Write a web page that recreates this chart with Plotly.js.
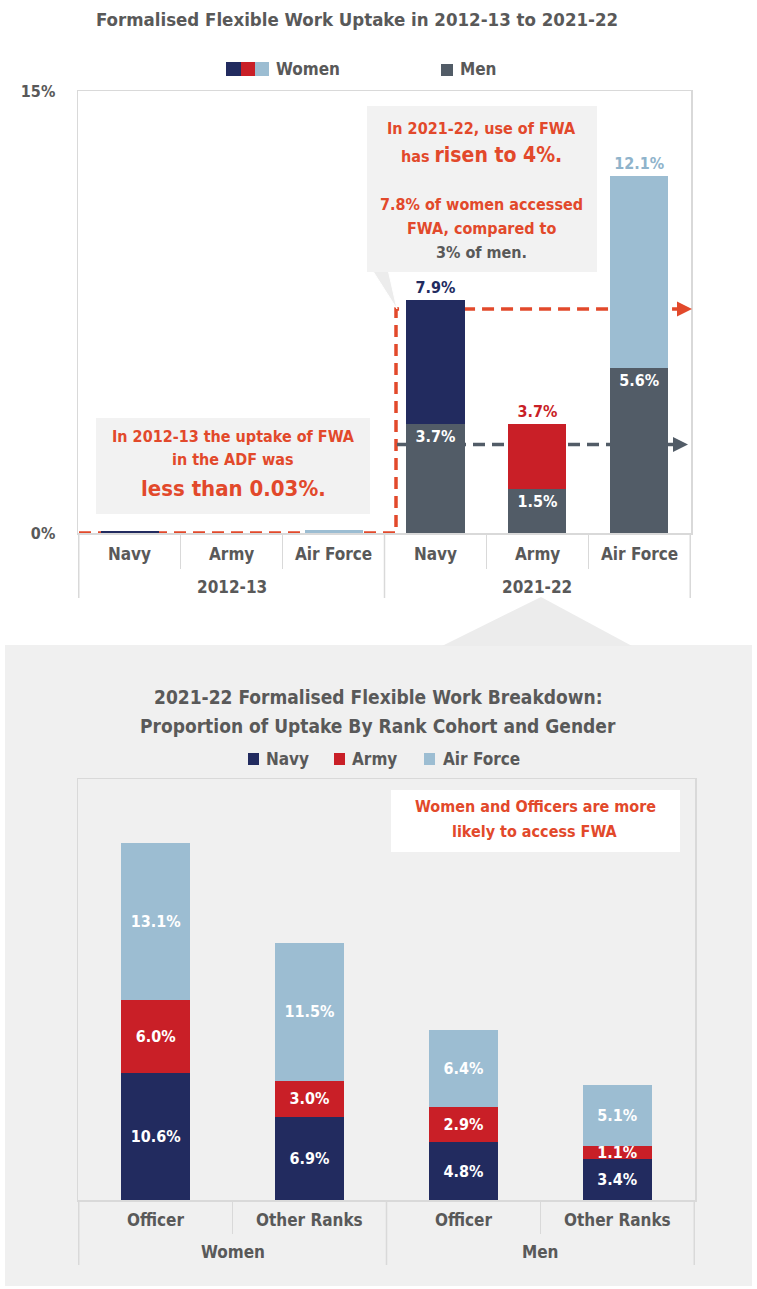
<!DOCTYPE html>
<html>
<head>
<meta charset="utf-8">
<script src="https://cdn.plot.ly/plotly-3.0.1.min.js"></script>
<style>
html,body{margin:0;padding:0;background:#fff;}
#chart{width:757px;height:1289px;}
</style>
</head>
<body>
<div id="chart"></div>
<script>
// ---------- DATA ----------
const topGroups   = ['2012-13','2012-13','2012-13','2021-22','2021-22','2021-22'];
const topServices = ['Navy','Army','Air Force','Navy','Army','Air Force'];
const womenUptake = [0.06, 0.01, 0.09, 7.9, 3.7, 12.1];
const menUptake   = [0, 0, 0, 3.7, 1.5, 5.6];
const womenLabels = ['', '', '', '7.9%', '3.7%', '12.1%'];
const menLabels   = ['', '', '', '3.7%', '1.5%', '5.6%'];
const womenAvgLine = 7.6;   // orange dashed reference (as drawn)
const menAvgLine   = 3.0;   // grey dashed reference

const rankGender  = ['Women','Women','Men','Men'];
const rankCohort  = ['Officer','Other Ranks','Officer','Other Ranks'];
const navyShare   = [10.6, 6.9, 4.8, 3.4];
const armyShare   = [6.0, 3.0, 2.9, 1.1];
const airShare    = [13.1, 11.5, 6.4, 5.1];

// ---------- STYLE ----------
const W = 757, H = 1289;
const X = px => px / W;
const Y = py => 1 - py / H;
const FONT = '"DejaVu Sans Condensed", "Liberation Sans Narrow", "DejaVu Sans", sans-serif';
const GREY = '#595959';
const NAVY = '#222b5f', RED = '#c91f27', LBLUE = '#9cbdd2', MEN = '#525c67';
const ORANGE = '#e2492b';
const LINE = '#d9d9d9';
const womenColors = [NAVY, RED, LBLUE, NAVY, RED, LBLUE];

const pct = arr => arr.map(v => v.toFixed(1) + '%');

const traces = [
  {
    type: 'bar', xaxis: 'x', yaxis: 'y',
    x: [topGroups, topServices], y: menUptake,
    width: 0.57, marker: {color: MEN},
    text: menLabels, textposition: 'inside', insidetextanchor: 'end',
    textfont: {color: '#ffffff', size: 16, family: FONT, weight: 'bold'},
    constraintext: 'none', cliponaxis: false, showlegend: false, hoverinfo: 'skip'
  },
  {
    type: 'bar', xaxis: 'x', yaxis: 'y',
    x: [topGroups, topServices], y: womenUptake.map((v, i) => v - menUptake[i]),
    width: 0.57, marker: {color: womenColors},
    text: womenLabels, textposition: 'outside',
    outsidetextfont: {color: womenColors.map((c, i) => i === 5 ? '#8fb3cb' : c), size: 16, family: FONT, weight: 'bold'},
    constraintext: 'none', cliponaxis: false, showlegend: false, hoverinfo: 'skip'
  },
  {
    type: 'bar', name: 'Navy', xaxis: 'x2', yaxis: 'y2',
    x: [rankGender, rankCohort], y: navyShare, width: 0.45,
    marker: {color: NAVY}, text: pct(navyShare), textposition: 'inside', insidetextanchor: 'middle',
    textfont: {color: '#ffffff', size: 16, family: FONT, weight: 'bold'}, constraintext: 'none',
    showlegend: false, hoverinfo: 'skip'
  },
  {
    type: 'bar', name: 'Army', xaxis: 'x2', yaxis: 'y2',
    x: [rankGender, rankCohort], y: armyShare, width: 0.45,
    marker: {color: RED}, text: pct(armyShare), textposition: 'inside', insidetextanchor: 'middle',
    textfont: {color: '#ffffff', size: 16, family: FONT, weight: 'bold'}, constraintext: 'none',
    showlegend: false, hoverinfo: 'skip'
  },
  {
    type: 'bar', name: 'Air Force', xaxis: 'x2', yaxis: 'y2',
    x: [rankGender, rankCohort], y: airShare, width: 0.45,
    marker: {color: LBLUE}, text: pct(airShare), textposition: 'inside', insidetextanchor: 'middle',
    textfont: {color: '#ffffff', size: 16, family: FONT, weight: 'bold'}, constraintext: 'none',
    showlegend: false, hoverinfo: 'skip'
  }
];

const axisFont = {family: FONT, size: 17, color: GREY, weight: 'bold'};

const ann = (x, y, text, opts = {}) => Object.assign({
  xref: 'paper', yref: 'paper', x: X(x), y: Y(y), text: text, showarrow: false,
  xanchor: 'center', yanchor: 'middle',
  font: {family: FONT, size: 16, color: ORANGE, weight: 'bold'}
}, opts);

// two-level category labels (inner labels + group labels) and group dividers
function groupInfo(groups) {
  const out = [];
  groups.forEach((g, i) => {
    const last = out[out.length - 1];
    if (last && last.name === g) last.end = i; else out.push({name: g, start: i, end: i});
  });
  return out;
}
function categoryDecor(xref, inner, groups, yAxisPx, innerPx, outerPx, dividerEndPx) {
  const anns = [], shps = [];
  inner.forEach((lab, i) => anns.push({
    xref: xref, yref: 'paper', x: i, y: Y(innerPx), text: lab, showarrow: false,
    xanchor: 'center', yanchor: 'middle', font: axisFont
  }));
  const gi = groupInfo(groups);
  gi.forEach(g => {
    anns.push({
      xref: xref, yref: 'paper', x: (g.start + g.end) / 2, y: Y(outerPx), text: g.name, showarrow: false,
      xanchor: 'center', yanchor: 'middle', font: axisFont
    });
  });
  const bounds = [gi[0].start - 0.5].concat(gi.map(g => g.end + 0.5));
  bounds.forEach(b => shps.push({
    type: 'line', xref: xref, yref: 'paper', x0: b, x1: b, y0: Y(yAxisPx), y1: Y(dividerEndPx),
    line: {color: LINE, width: 1.5}
  }));
  return {anns, shps};
}
const topDecor = categoryDecor('x', topServices, topGroups, 533, 554, 587, 598);
const botDecor = categoryDecor('x2', rankCohort, rankGender, 1200, 1220, 1252, 1265);

const shapes = [
  // grey background panel for the breakdown chart
  {type: 'rect', xref: 'paper', yref: 'paper', x0: X(5), x1: X(752), y0: Y(1286), y1: Y(645),
   fillcolor: '#f0f0f0', line: {width: 0}, layer: 'below'},
  // pointer triangle
  {type: 'path', xref: 'paper', yref: 'paper',
   path: `M ${X(442)},${Y(646)} L ${X(541)},${Y(597)} L ${X(632)},${Y(646)} Z`,
   fillcolor: '#ececec', line: {width: 0}, layer: 'below'},
  // top legend swatches
  {type: 'rect', xref: 'paper', yref: 'paper', x0: X(226), x1: X(241), y0: Y(76), y1: Y(62), fillcolor: NAVY, line: {width: 0}},
  {type: 'rect', xref: 'paper', yref: 'paper', x0: X(241), x1: X(255), y0: Y(76), y1: Y(62), fillcolor: RED, line: {width: 0}},
  {type: 'rect', xref: 'paper', yref: 'paper', x0: X(255), x1: X(269), y0: Y(76), y1: Y(62), fillcolor: LBLUE, line: {width: 0}},
  {type: 'rect', xref: 'paper', yref: 'paper', x0: X(441), x1: X(453), y0: Y(76), y1: Y(64), fillcolor: MEN, line: {width: 0}},
  // bottom legend swatches
  {type: 'rect', xref: 'paper', yref: 'paper', x0: X(248), x1: X(259), y0: Y(765), y1: Y(753), fillcolor: NAVY, line: {width: 0}},
  {type: 'rect', xref: 'paper', yref: 'paper', x0: X(334), x1: X(345), y0: Y(765), y1: Y(753), fillcolor: RED, line: {width: 0}},
  {type: 'rect', xref: 'paper', yref: 'paper', x0: X(424), x1: X(435), y0: Y(765), y1: Y(753), fillcolor: LBLUE, line: {width: 0}},
  // orange dashed reference line (women)
  {type: 'path', xref: 'paper', yref: 'y', layer: 'below',
   path: `M ${X(79)},0 L ${X(396)},0 L ${X(396)},${womenAvgLine} L ${X(682)},${womenAvgLine}`,
   line: {color: ORANGE, width: 3.5, dash: '12px,7px'}},
  // grey dashed reference line (men)
  {type: 'path', xref: 'paper', yref: 'y', layer: 'below',
   path: `M ${X(397)},${menAvgLine} L ${X(678)},${menAvgLine}`,
   line: {color: MEN, width: 3.5, dash: '12px,7px'}},
  // callout boxes
  {type: 'path', xref: 'paper', yref: 'paper', layer: 'above',
   path: `M ${X(369)},${Y(265)} L ${X(387)},${Y(265)} L ${X(397)},${Y(309)} Z`,
   fillcolor: '#ececec', line: {color: '#ffffff', width: 1}},
  {type: 'rect', xref: 'paper', yref: 'paper', x0: X(367), x1: X(597), y0: Y(272), y1: Y(106),
   fillcolor: '#f2f2f2', line: {width: 0}, layer: 'above'},
  {type: 'rect', xref: 'paper', yref: 'paper', x0: X(96), x1: X(370), y0: Y(514), y1: Y(418),
   fillcolor: '#f2f2f2', line: {width: 0}, layer: 'above'},
  {type: 'rect', xref: 'paper', yref: 'paper', x0: X(391), x1: X(680), y0: Y(852), y1: Y(790),
   fillcolor: '#ffffff', line: {width: 0}, layer: 'above'}
].concat(topDecor.shps, botDecor.shps);

const annotations = [
  // top legend labels
  ann(274, 69, 'Women', {xanchor: 'left', font: {family: FONT, size: 17, color: GREY, weight: 'bold'}}),
  ann(458, 69, 'Men', {xanchor: 'left', font: {family: FONT, size: 17, color: GREY, weight: 'bold'}}),
  // bottom title + legend
  ann(378, 697, '2021-22 Formalised Flexible Work Breakdown:', {font: {family: FONT, size: 19, color: GREY, weight: 'bold'}}),
  ann(378, 726, 'Proportion of Uptake By Rank Cohort and Gender', {font: {family: FONT, size: 19, color: GREY, weight: 'bold'}}),
  ann(264, 759, 'Navy', {xanchor: 'left', font: {family: FONT, size: 17, color: GREY, weight: 'bold'}}),
  ann(350, 759, 'Army', {xanchor: 'left', font: {family: FONT, size: 17, color: GREY, weight: 'bold'}}),
  ann(441, 759, 'Air Force', {xanchor: 'left', font: {family: FONT, size: 17, color: GREY, weight: 'bold'}}),
  // top callout
  ann(482, 128, 'In 2021-22, use of FWA'),
  ann(482, 155, 'has <span style="font-size:21px">risen to 4%.</span>'),
  ann(482, 205, '7.8% of women accessed'),
  ann(482, 228, 'FWA, compared to'),
  ann(482, 252, '3% of men.', {font: {family: FONT, size: 16, color: GREY, weight: 'bold'}}),
  // 2012-13 callout
  ann(233, 436, 'In 2012-13 the uptake of FWA'),
  ann(233, 459, 'in the ADF was'),
  ann(233, 488, 'less than 0.03%.', {font: {family: FONT, size: 22, color: ORANGE, weight: 'bold'}}),
  // breakdown callout
  ann(535, 806, 'Women and Officers are more'),
  ann(535, 831, 'likely to access FWA'),
  // arrow heads
  {xref: 'paper', yref: 'y', x: X(692), y: womenAvgLine, ax: -14, ay: 0, text: '', showarrow: true,
   arrowhead: 2, arrowsize: 1, arrowwidth: 3, arrowcolor: ORANGE},
  {xref: 'paper', yref: 'y', x: X(688), y: menAvgLine, ax: -14, ay: 0, text: '', showarrow: true,
   arrowhead: 2, arrowsize: 1, arrowwidth: 3, arrowcolor: MEN}
].concat(topDecor.anns, botDecor.anns);

const layout = {
  width: W, height: H,
  margin: {l: 0, r: 0, t: 0, b: 0},
  paper_bgcolor: '#ffffff', plot_bgcolor: 'rgba(0,0,0,0)',
  barmode: 'stack',
  showlegend: false,
  font: {family: FONT, color: GREY},
  title: {text: 'Formalised Flexible Work Uptake in 2012-13 to 2021-22',
    x: X(357), xanchor: 'center', xref: 'paper', y: Y(20), yanchor: 'middle', yref: 'paper',
    font: {family: FONT, size: 18.5, color: GREY, weight: 'bold'}},
  xaxis: {
    domain: [X(78), X(691)], anchor: 'y', type: 'multicategory',
    showline: true, linecolor: LINE, linewidth: 1.5, mirror: true,
    ticks: 'outside', ticklen: 34, tickcolor: LINE, tickwidth: 1,
    showticklabels: false, showdividers: false,
    showgrid: false, fixedrange: true
  },
  yaxis: {
    domain: [Y(533), Y(91)], anchor: 'x', range: [0, 15],
    tickvals: [0, 15], ticktext: ['0%', '15%'], ticks: '', ticklabelstandoff: 18,
    showline: true, linecolor: LINE, linewidth: 1.5, mirror: true,
    showgrid: false, zeroline: false, tickfont: {family: FONT, size: 16, color: GREY, weight: 'bold'},
    fixedrange: true
  },
  xaxis2: {
    domain: [X(78), X(695)], anchor: 'y2', type: 'multicategory',
    showline: true, linecolor: LINE, linewidth: 1.5, mirror: true,
    ticks: 'outside', ticklen: 32, tickcolor: LINE, tickwidth: 1,
    showticklabels: false, showdividers: false,
    showgrid: false, fixedrange: true
  },
  yaxis2: {
    domain: [Y(1200), Y(779)], anchor: 'x2', range: [0, 35],
    showticklabels: false, ticks: '', showgrid: false, zeroline: false,
    showline: true, linecolor: LINE, linewidth: 1.5, mirror: true, fixedrange: true
  },
  shapes: shapes,
  annotations: annotations
};

Plotly.newPlot('chart', traces, layout, {displayModeBar: false, staticPlot: true});
</script>
</body>
</html>
